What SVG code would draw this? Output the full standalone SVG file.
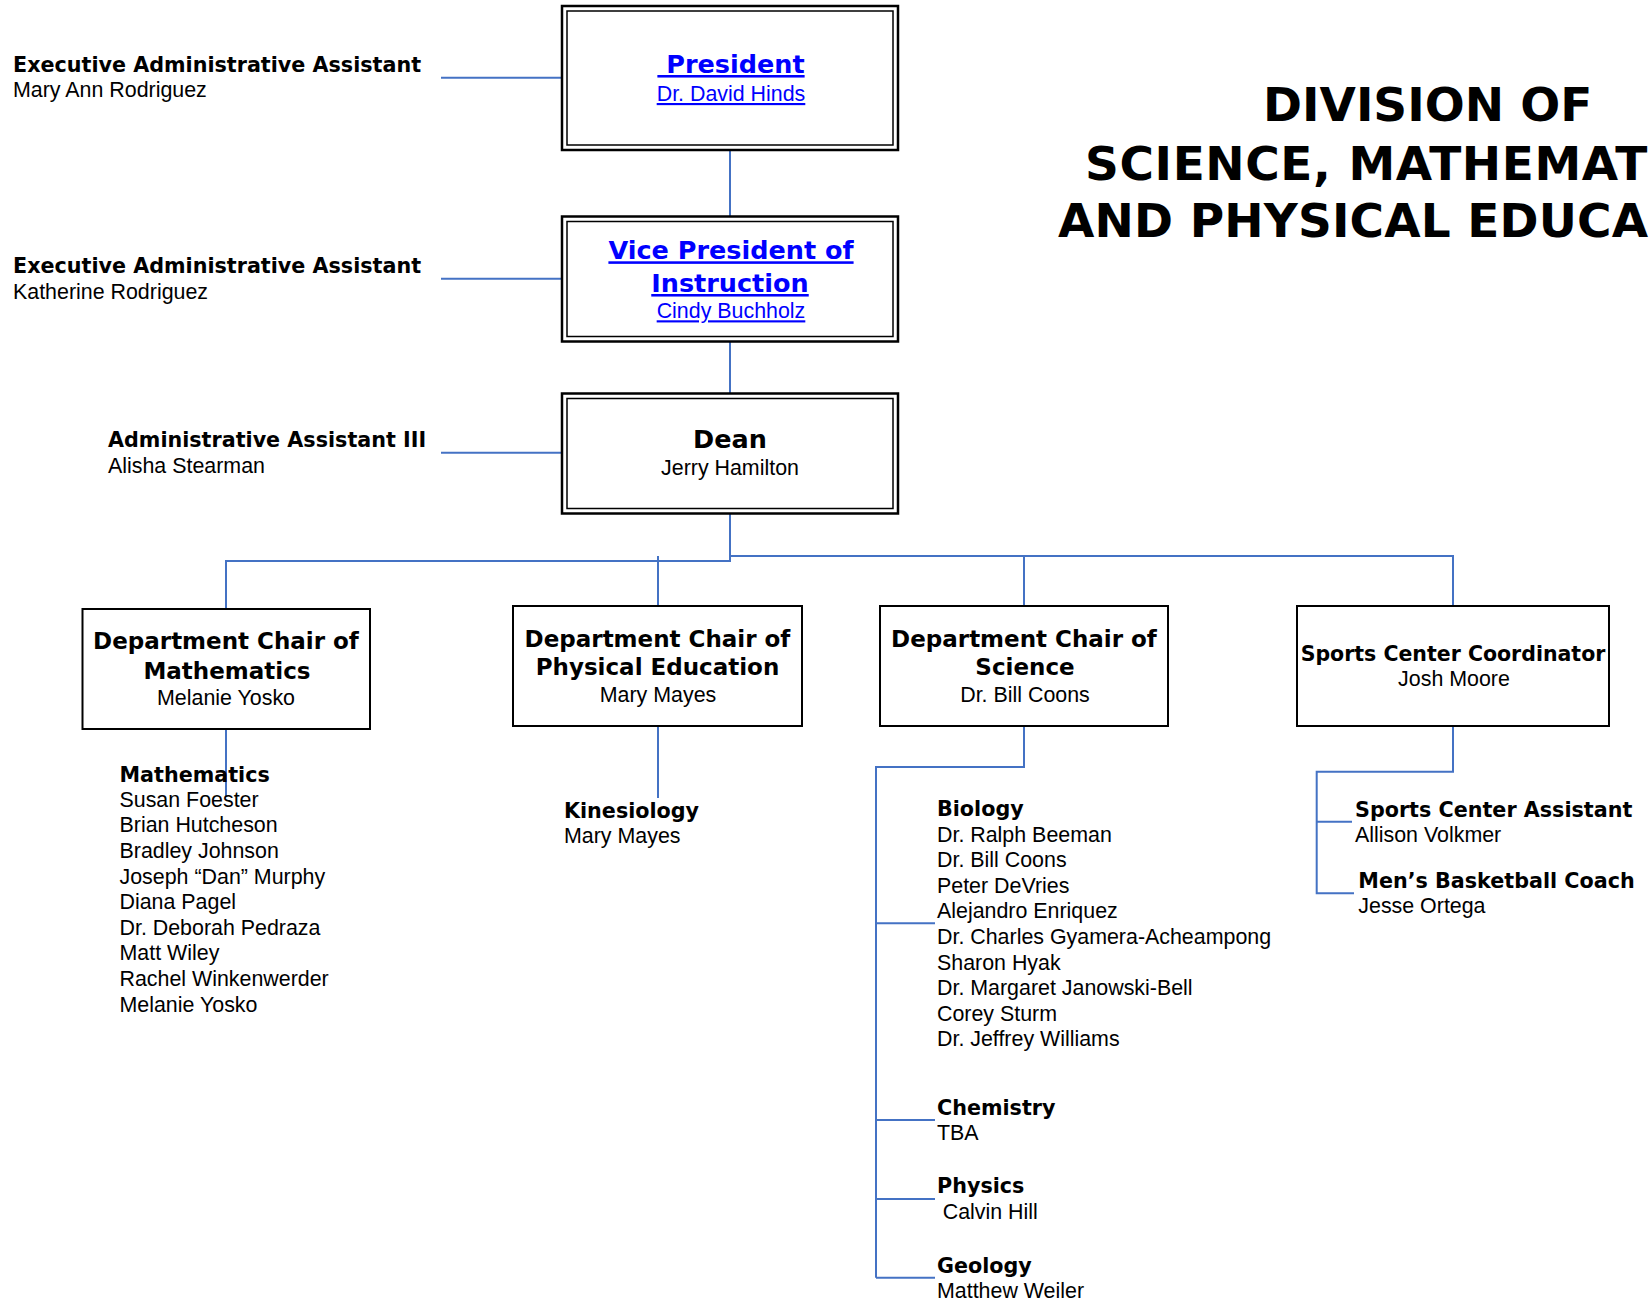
<svg xmlns="http://www.w3.org/2000/svg" width="1650" height="1303" viewBox="0 0 1650 1303">
<style>
  .b { font-family: "DejaVu Sans", sans-serif; font-weight: bold; font-size: 20.7px; fill: #000; }
  .r { font-family: "Liberation Sans", Arial, sans-serif; font-size: 21.4px; fill: #000; }
  .bh { font-family: "DejaVu Sans", sans-serif; font-weight: bold; font-size: 23px; fill: #000; }
  .bt { font-family: "DejaVu Sans", sans-serif; font-weight: bold; font-size: 25.5px; fill: #000; }
  .link { fill: #0000ff; text-decoration: underline; }
  .title { font-family: "DejaVu Sans", sans-serif; font-weight: bold; font-size: 47px; fill: #000; }
  .c { text-anchor: middle; }
  .box { fill: #fff; stroke: #000; stroke-width: 2; }
  .outer { fill: #fff; stroke: #000; stroke-width: 2.5; }
  .inner { fill: none; stroke: #000; stroke-width: 1.5; }
  .conn { fill: none; stroke: #4472C4; stroke-width: 2; }
</style>
<rect width="1650" height="1303" fill="#fff"/>

<g id="connectors">
  <path class="conn" d="M441,77.7 H562"/>
  <path class="conn" d="M441,278.7 H562"/>
  <path class="conn" d="M441,452.7 H562"/>
  <path class="conn" d="M730,150 V216.5"/>
  <path class="conn" d="M730,342 V393.5"/>
  <path class="conn" d="M226,609 V561 H730 V513"/>
  <path class="conn" d="M730,556 H1453 V606"/>
  <path class="conn" d="M658,556 V606"/>
  <path class="conn" d="M1024,556 V606"/>
  <path class="conn" d="M226,729 V797"/>
  <path class="conn" d="M658,726 V798"/>
  <path class="conn" d="M1024,726 V767 H876 V1277.7"/>
  <path class="conn" d="M876,923.3 H935"/>
  <path class="conn" d="M876,1120 H935"/>
  <path class="conn" d="M876,1199 H935"/>
  <path class="conn" d="M876,1277.7 H935"/>
  <path class="conn" d="M1453,726 V771.7 H1316.7 V893.3 H1354"/>
  <path class="conn" d="M1316.7,821.7 H1352"/>
</g>

<g id="title">
  <text class="title" x="1263" y="120.7">DIVISION OF</text>
  <text class="title" x="1085" y="180" letter-spacing="0.6">SCIENCE, MATHEMAT</text>
  <text class="title" x="1058" y="237.3" letter-spacing="0.15">AND PHYSICAL EDUCA</text>
</g>

<g id="assistant-president">
  <text class="b" x="13" y="71.7">Executive Administrative Assistant</text>
  <text class="r" x="13" y="96.7">Mary Ann Rodriguez</text>
</g>
<g id="assistant-vp">
  <text class="b" x="13" y="273">Executive Administrative Assistant</text>
  <text class="r" x="13" y="299">Katherine Rodriguez</text>
</g>
<g id="assistant-dean">
  <text class="b" x="108" y="446.7">Administrative Assistant III</text>
  <text class="r" x="108" y="472.7">Alisha Stearman</text>
</g>

<g id="president">
  <rect class="outer" x="562" y="6" width="336" height="144"/>
  <rect class="inner" x="567" y="11" width="326" height="134"/>
  <text class="bt c link" x="731" y="73" xml:space="preserve"> President</text>
  <text class="r c link" x="731" y="101">Dr. David Hinds</text>
</g>

<g id="vice-president">
  <rect class="outer" x="562" y="216.5" width="336" height="125"/>
  <rect class="inner" x="567" y="221.5" width="326" height="115"/>
  <text class="bt c link" x="731" y="259.3">Vice President of</text>
  <text class="bt c link" x="730" y="292">Instruction</text>
  <text class="r c link" x="731" y="318.3">Cindy Buchholz</text>
</g>

<g id="dean">
  <rect class="outer" x="562" y="393.5" width="336" height="120"/>
  <rect class="inner" x="567" y="398.5" width="326" height="110"/>
  <text class="bt c" x="730" y="448.3">Dean</text>
  <text class="r c" x="730" y="475">Jerry Hamilton</text>
</g>

<g id="chair-math">
  <rect class="box" x="82.5" y="609" width="287.5" height="120"/>
  <text class="bh c" x="226" y="649.3">Department Chair of</text>
  <text class="bh c" x="227" y="678.7">Mathematics</text>
  <text class="r c" x="226" y="705">Melanie Yosko</text>
</g>

<g id="chair-pe">
  <rect class="box" x="513" y="606" width="289" height="120"/>
  <text class="bh c" x="657.5" y="646.7">Department Chair of</text>
  <text class="bh c" x="657.5" y="675.3">Physical Education</text>
  <text class="r c" x="658" y="701.7">Mary Mayes</text>
</g>

<g id="chair-science">
  <rect class="box" x="880" y="606" width="288" height="120"/>
  <text class="bh c" x="1024" y="646.7">Department Chair of</text>
  <text class="bh c" x="1025" y="675.3">Science</text>
  <text class="r c" x="1025" y="701.7">Dr. Bill Coons</text>
</g>

<g id="sports-coordinator">
  <rect class="box" x="1297" y="606" width="312" height="120"/>
  <text class="b c" x="1453" y="660.7" style="font-size:20.5px">Sports Center Coordinator</text>
  <text class="r c" x="1454" y="685.7">Josh Moore</text>
</g>

<g id="mathematics">
  <text class="b" x="119.5" y="781.7">Mathematics</text>
  <text class="r" x="119.5" y="806.7">Susan Foester</text>
  <text class="r" x="119.5" y="832.3">Brian Hutcheson</text>
  <text class="r" x="119.5" y="857.9">Bradley Johnson</text>
  <text class="r" x="119.5" y="883.5">Joseph “Dan” Murphy</text>
  <text class="r" x="119.5" y="909.1">Diana Pagel</text>
  <text class="r" x="119.5" y="934.7">Dr. Deborah Pedraza</text>
  <text class="r" x="119.5" y="960.3">Matt Wiley</text>
  <text class="r" x="119.5" y="985.9">Rachel Winkenwerder</text>
  <text class="r" x="119.5" y="1011.5">Melanie Yosko</text>
</g>

<g id="kinesiology">
  <text class="b" x="564" y="818">Kinesiology</text>
  <text class="r" x="564" y="843.3">Mary Mayes</text>
</g>

<g id="biology">
  <text class="b" x="937" y="816">Biology</text>
  <text class="r" x="937" y="841.6">Dr. Ralph Beeman</text>
  <text class="r" x="937" y="867.2">Dr. Bill Coons</text>
  <text class="r" x="937" y="892.8">Peter DeVries</text>
  <text class="r" x="937" y="918.4">Alejandro Enriquez</text>
  <text class="r" x="937" y="944">Dr. Charles Gyamera-Acheampong</text>
  <text class="r" x="937" y="969.6">Sharon Hyak</text>
  <text class="r" x="937" y="995.2">Dr. Margaret Janowski-Bell</text>
  <text class="r" x="937" y="1020.8">Corey Sturm</text>
  <text class="r" x="937" y="1046.4">Dr. Jeffrey Williams</text>
</g>

<g id="chemistry">
  <text class="b" x="937" y="1115">Chemistry</text>
  <text class="r" x="937" y="1140">TBA</text>
</g>

<g id="physics">
  <text class="b" x="937" y="1193.3">Physics</text>
  <text class="r" x="942.7" y="1219.3">Calvin Hill</text>
</g>

<g id="geology">
  <text class="b" x="937" y="1272.7">Geology</text>
  <text class="r" x="937" y="1298.3">Matthew Weiler</text>
</g>

<g id="sports-assistant">
  <text class="b" x="1355" y="816.7">Sports Center Assistant</text>
  <text class="r" x="1355" y="841.7">Allison Volkmer</text>
</g>

<g id="basketball-coach">
  <text class="b" x="1358.3" y="888.3">Men’s Basketball Coach</text>
  <text class="r" x="1358.3" y="913.3">Jesse Ortega</text>
</g>
</svg>
